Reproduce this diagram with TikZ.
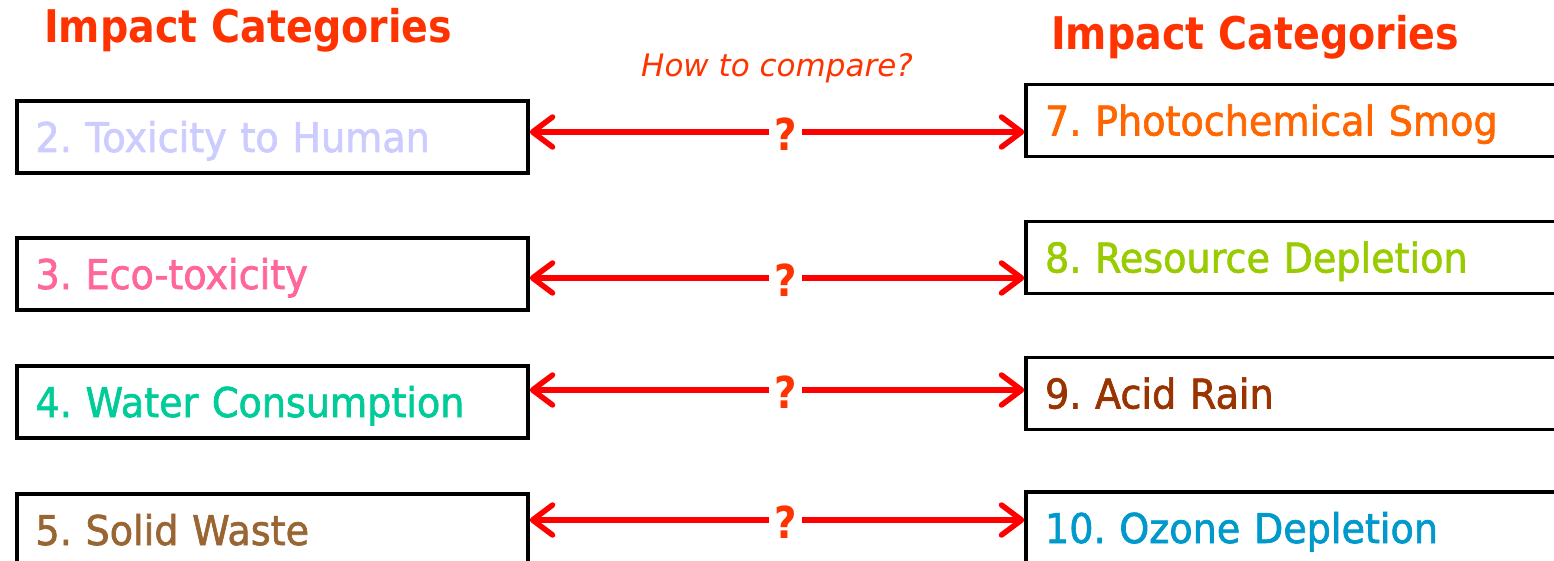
\documentclass[tikz,border=0pt]{standalone}
\usepackage{fontspec}
\usetikzlibrary{arrows.meta}
\newfontfamily\catfont[FakeStretch=0.93,FakeBold=1.6]{DejaVu Sans}
\newfontfamily\headfont[FakeStretch=0.88]{DejaVu Sans}
\newfontfamily\askfont{DejaVu Sans}
\definecolor{headcol}{HTML}{FF3300}
\definecolor{cTwo}{HTML}{CCCCFF}
\definecolor{cThree}{HTML}{FF6699}
\definecolor{cFour}{HTML}{00CC99}
\definecolor{cFive}{HTML}{996633}
\definecolor{cSeven}{HTML}{FF6600}
\definecolor{cEight}{HTML}{99CC00}
\definecolor{cNine}{HTML}{993300}
\definecolor{cTen}{HTML}{0099CC}
\frenchspacing
\begin{document}
\begin{tikzpicture}[x=1pt,y=-1pt,
  catbox/.style={draw=black, line width=3.5pt, minimum height=72pt,
    inner ysep=0pt, align=left, text height=30pt, text depth=0pt,
    font=\catfont\fontsize{41}{41}\selectfont},
  lbox/.style={catbox, inner xsep=18.5pt, text width=474pt},
  rbox/.style={catbox, inner xsep=19pt, text width=562pt},
  head/.style={text=headcol, inner sep=0pt, anchor=base west,
    font=\headfont\bfseries\fontsize{45}{45}\selectfont},
  ask/.style={text=headcol, inner sep=0pt, anchor=base west,
    font=\askfont\itshape\fontsize{31}{31}\selectfont},
  pair/.style={draw=red, line width=5.5pt,
    {Straight Barb[length=20pt,width=30pt,round]}-{Straight Barb[length=20pt,width=30pt,round]}},
  qmark/.style={pos=0.517, fill=white, text=headcol, inner xsep=5pt, inner ysep=0pt,
    text height=31pt, text depth=0pt, yshift=-3pt,
    font=\headfont\bfseries\fontsize{44}{44}\selectfont}]
  % page area
  \fill[white] (0,0) rectangle (1554,561);
  \useasboundingbox (0,0) rectangle (1554,561);
  \clip (0,0) rectangle (1554,561);

  % column headings
  \node[head] (tl) at (44,43) {Impact Categories};
  \node[head] (tr) at (1051,50) {Impact Categories};
  \node[ask] (ask) at (641,77) {How to compare?};

  % left column
  \node[lbox, text=cTwo]   (l1) at (272.5,137) {2. Toxicity to Human};
  \node[lbox, text=cThree] (l2) at (272.5,274) {3. Eco-toxicity};
  \node[lbox, text=cFour]  (l3) at (272.5,402) {4. Water Consumption};
  \node[lbox, text=cFive]  (l4) at (272.5,530) {5. Solid Waste};

  % right column
  \node[rbox, text=cSeven] (r1) at (1326,120.5) {7. Photochemical Smog};
  \node[rbox, text=cEight] (r2) at (1326,257.5) {8. Resource Depletion};
  \node[rbox, text=cNine]  (r3) at (1326,393.5) {9. Acid Rain};
  \node[rbox, text=cTen]   (r4) at (1326,528)   {10. Ozone Depletion};

  % comparison arrows
  \coordinate (y1) at (0,132);
  \coordinate (y2) at (0,278);
  \coordinate (y3) at (0,390);
  \coordinate (y4) at (0,520);
  \draw[pair] (l1.east |- y1) -- node[qmark] (q1) {?} (r1.west |- y1);
  \draw[pair] (l2.east |- y2) -- node[qmark] (q2) {?} (r2.west |- y2);
  \draw[pair] (l3.east |- y3) -- node[qmark] (q3) {?} (r3.west |- y3);
  \draw[pair] (l4.east |- y4) -- node[qmark] (q4) {?} (r4.west |- y4);
\end{tikzpicture}
\end{document}
